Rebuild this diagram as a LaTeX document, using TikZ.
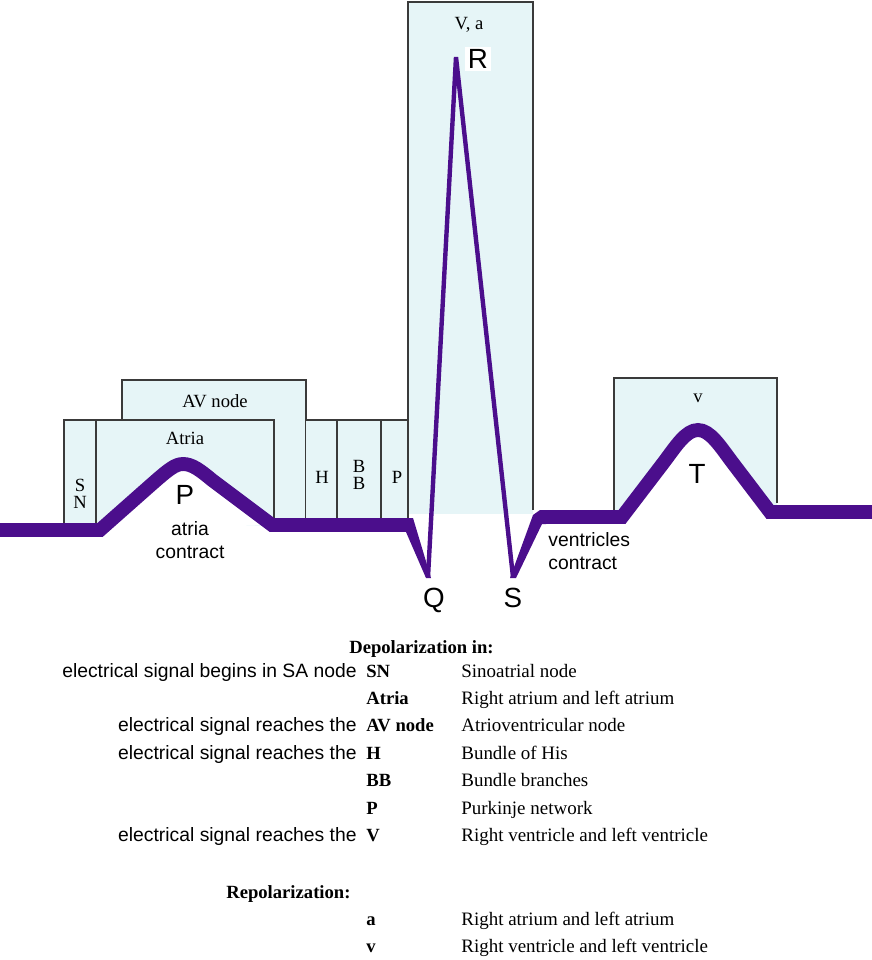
\documentclass[tikz,border=0pt]{standalone}
\usepackage{fontspec}
\setmainfont{Liberation Serif}
\setsansfont{Liberation Sans}
\usetikzlibrary{positioning}

\begin{document}
\begin{tikzpicture}[x=0.02cm, y=-0.02cm]
    % Color Palette
    \definecolor{waveColor}{HTML}{4B0E8C}
    \definecolor{boxColor}{HTML}{E6F5F7}
    \definecolor{boxBorder}{HTML}{3A3A3A}
    \tikzset{
        phasebox/.style={fill=boxColor},
        boxedge/.style={draw=boxBorder, line width=0.6pt},
        wave/.style={draw=waveColor, line width=7.9pt},
        spike/.style={draw=waveColor, line width=2.5pt},
        boxlabel/.style={font=\fontsize{10.6}{12}\selectfont, inner sep=0pt},
        stacklabel/.style={font=\fontsize{10.6}{9.6}\selectfont, align=center, inner sep=0pt},
        wavelabel/.style={font=\sffamily\fontsize{15.8}{18}\selectfont, inner sep=0pt},
        notelabel/.style={font=\sffamily\fontsize{11}{13.4}\selectfont, inner sep=0pt},
        signaltext/.style={font=\sffamily\fontsize{11}{13}\selectfont, anchor=base east, inner sep=0pt},
        tablehead/.style={font=\bfseries\fontsize{10.6}{12}\selectfont, inner sep=0pt},
        tablekey/.style={font=\bfseries\fontsize{10.6}{12}\selectfont, anchor=base west, inner sep=0pt},
        tabletext/.style={font=\fontsize{10.8}{12}\selectfont, anchor=base west, inner sep=0pt}
    }
    \useasboundingbox[fill=white] (0,0) rectangle (872,960);

    % --- Phase boxes (left) ---
    \fill[phasebox] (122,380) rectangle (306,524);
    \draw[boxedge] (122,420) -- (122,380) -- (306,380) -- (306,518);
    \fill[phasebox] (64,420) rectangle (274,526);
    \draw[boxedge] (64,524) -- (64,420) -- (274,420) -- (274,518);
    \draw[boxedge] (96,420) -- (96,524);
    \fill[phasebox] (306,420) rectangle (409,522);
    \draw[boxedge] (306,420) -- (409,420);
    \draw[boxedge] (337,420) -- (337,518);
    \draw[boxedge] (381,420) -- (381,518);

    % --- Phase boxes (QRS and T) ---
    \fill[phasebox] (408,2) rectangle (533,514);
    \draw[boxedge] (408,518) -- (408,2) -- (533,2) -- (533,510);
    \fill[phasebox] (614,378) rectangle (777,512);
    \draw[boxedge] (614,510) -- (614,378) -- (777,378) -- (777,503);

    % White below the P and T waves
    \fill[white] (100,530) -- (152,484) .. controls (168,470) and (175,464) .. (183,464)
        .. controls (192,464) and (200,470) .. (212,480) -- (272,525) -- cycle;
    \fill[white] (622,517) -- (664,462) .. controls (676,446) and (686,430) .. (698,430)
        .. controls (710,430) and (720,446) .. (732,462) -- (770,512) -- cycle;

    % --- ECG trace ---
    \draw[wave] (0,530) -- (100,530) -- (152,484) .. controls (168,470) and (175,464) .. (183,464)
        .. controls (192,464) and (200,470) .. (212,480) -- (272,525) -- (408,525);
    \fill[waveColor] (406,532) -- (406,518) -- (413,518) -- (431,578) -- (426,578) -- cycle;
    \draw[spike] (428,577) -- (456,57) -- (513,577);
    \fill[waveColor] (510,578) -- (516,578) -- (542,524) -- (546,524) -- (546,510) -- (540,510) -- (533,515) -- cycle;
    \draw[wave] (544,517) -- (622,517) -- (664,462) .. controls (676,446) and (686,430) .. (698,430)
        .. controls (710,430) and (720,446) .. (732,462) -- (770,512) -- (872,512);

    % Box labels
    \node[boxlabel] (avLabel) at (215,401) {AV node};
    \node[boxlabel] (atriaLabel) at (185,438) {Atria};
    \node[stacklabel] (snLabel) at (80,494) {S\\N};
    \node[boxlabel] (hLabel) at (322,477) {H};
    \node[stacklabel] (bbLabel) at (359,475) {B\\B};
    \node[boxlabel] (pLabel) at (397,477) {P};
    \node[boxlabel] (vaLabel) at (469,25) {V, a};
    \node[boxlabel] (vLabel) at (698,398) {v};

    % Wave labels
    \node[wavelabel] (waveP) at (185,495) {P};
    \node[wavelabel] (waveQ) at (434,600) {Q};
    \node[wavelabel, fill=white, inner sep=1.5pt] (waveR) at (478,59) {R};
    \node[wavelabel] (waveS) at (513,598) {S};
    \node[wavelabel] (waveT) at (697,474) {T};
    \node[notelabel, align=center] (atriaNote) at (190,540) {atria\\contract};
    \node[notelabel, align=left, anchor=west] (ventNote) at (548,551) {ventricles\\contract};

    % --- Depolarization table ---
    \node[tablehead, anchor=base west] (depHead) at (349,653) {Depolarization in:};

    \node[signaltext] (sigSN) at (357,677) {electrical signal begins in SA node};
    \node[tablekey] (keySN) at (366,677) {SN};
    \node[tabletext] (txtSN) at (461,677) {Sinoatrial node};

    \node[tablekey] (keyAtria) at (366,704) {Atria};
    \node[tabletext] (txtAtria) at (461,704) {Right atrium and left atrium};

    \node[signaltext] (sigAV) at (357,731.5) {electrical signal reaches the};
    \node[tablekey] (keyAV) at (366,731.5) {AV node};
    \node[tabletext] (txtAV) at (461,731.5) {Atrioventricular node};

    \node[signaltext] (sigH) at (357,759) {electrical signal reaches the};
    \node[tablekey] (keyH) at (366,759) {H};
    \node[tabletext] (txtH) at (461,759) {Bundle of His};

    \node[tablekey] (keyBB) at (366,786.5) {BB};
    \node[tabletext] (txtBB) at (461,786.5) {Bundle branches};

    \node[tablekey] (keyP) at (366,814) {P};
    \node[tabletext] (txtP) at (461,814) {Purkinje network};

    \node[signaltext] (sigV) at (357,841.5) {electrical signal reaches the};
    \node[tablekey] (keyV) at (366,841.5) {V};
    \node[tabletext] (txtV) at (461,841.5) {Right ventricle and left ventricle};

    % --- Repolarization table ---
    \node[tablehead, anchor=base west] (repHead) at (226,898) {Repolarization:};

    \node[tablekey] (keyA) at (366,925) {a};
    \node[tabletext] (txtA) at (461,925) {Right atrium and left atrium};

    \node[tablekey] (keyVr) at (366,952) {v};
    \node[tabletext] (txtVr) at (461,952) {Right ventricle and left ventricle};

\end{tikzpicture}
\end{document}
